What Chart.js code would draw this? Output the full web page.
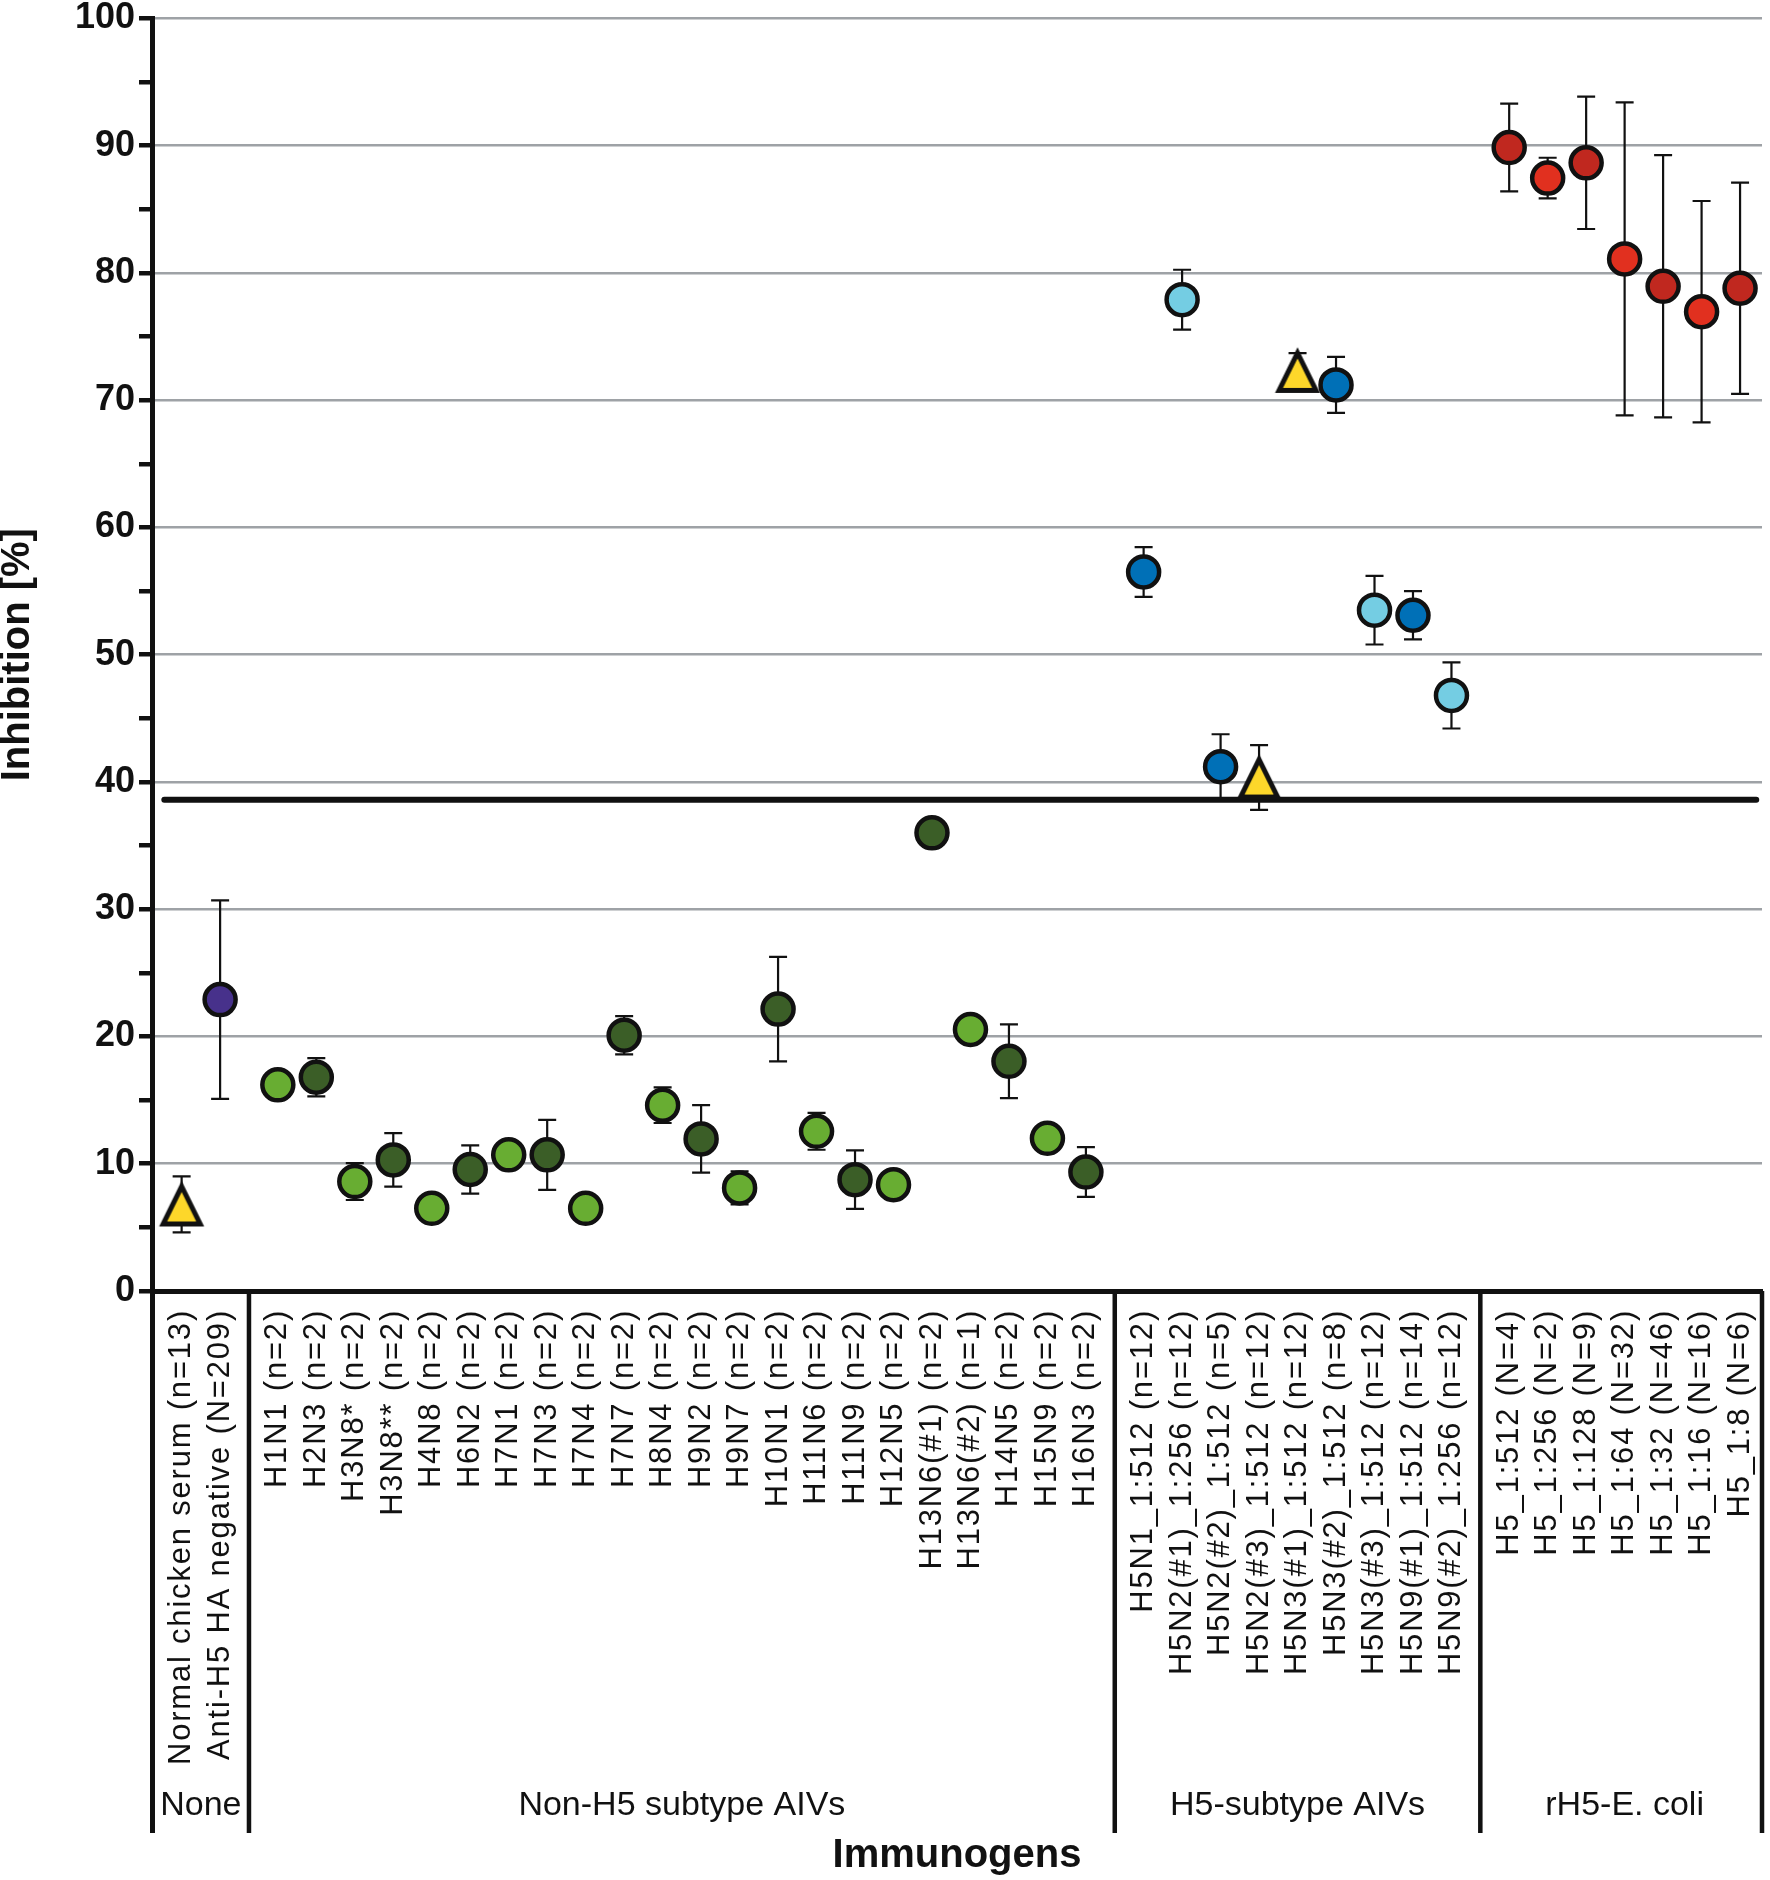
<!DOCTYPE html>
<html>
<head>
<meta charset="utf-8">
<script src="https://cdn.jsdelivr.net/npm/chart.js@4.4.1/dist/chart.umd.min.js"></script>
<style>
html,body{margin:0;padding:0;background:#ffffff;}
canvas{display:block;}
</style>
</head>
<body>
<canvas id="c" width="1770" height="1880" style="width:1770px;height:1880px"></canvas>
<script>
// ---------------- DATA ----------------
const categories = [
  'Normal chicken serum (n=13)', 'Anti-H5 HA negative (N=209)',
  'H1N1 (n=2)', 'H2N3 (n=2)', 'H3N8* (n=2)', 'H3N8** (n=2)', 'H4N8 (n=2)', 'H6N2 (n=2)',
  'H7N1 (n=2)', 'H7N3 (n=2)', 'H7N4 (n=2)', 'H7N7 (n=2)', 'H8N4 (n=2)', 'H9N2 (n=2)',
  'H9N7 (n=2)', 'H10N1 (n=2)', 'H11N6 (n=2)', 'H11N9 (n=2)', 'H12N5 (n=2)',
  'H13N6(#1) (n=2)', 'H13N6(#2) (n=1)', 'H14N5 (n=2)', 'H15N9 (n=2)', 'H16N3 (n=2)',
  'H5N1_1:512 (n=12)', 'H5N2(#1)_1:256 (n=12)', 'H5N2(#2)_1:512 (n=5)', 'H5N2(#3)_1:512 (n=12)',
  'H5N3(#1)_1:512 (n=12)', 'H5N3(#2)_1:512 (n=8)', 'H5N3(#3)_1:512 (n=12)',
  'H5N9(#1)_1:512 (n=14)', 'H5N9(#2)_1:256 (n=12)',
  'H5_1:512 (N=4)', 'H5_1:256 (N=2)', 'H5_1:128 (N=9)', 'H5_1:64 (N=32)',
  'H5_1:32 (N=46)', 'H5_1:16 (N=16)', 'H5_1:8 (N=6)'
];
const groupNames = ['None', 'Non-H5 subtype AIVs', 'H5-subtype AIVs', 'rH5-E. coli'];
const groupSizes = [2, 22, 9, 7];

// mean inhibition (%)
const values = [
  6.8, 22.9,
  16.2, 16.8, 8.6, 10.3, 6.5, 9.55, 10.7, 10.7, 6.5, 20.1, 14.6, 11.95,
  8.1, 22.15, 12.55, 8.75, 8.35, 36.0, 20.55, 18.05, 12.0, 9.35,
  56.5, 77.9, 41.2, 40.35, 72.3, 71.2, 53.5, 53.1, 46.8,
  89.85, 87.45, 88.65, 81.1, 78.95, 76.95, 78.8
];
// error (+/-)
const errors = [
  2.2, 7.8,
  0, 1.5, 1.45, 2.1, 0, 1.9, 0, 2.75, 0, 1.5, 1.4, 2.65,
  1.3, 4.1, 1.45, 2.3, 0, 0, 0, 2.9, 0, 1.95,
  1.95, 2.35, 2.55, 2.55, 1.4, 2.2, 2.7, 1.9, 2.6,
  3.45, 1.6, 5.2, 12.3, 10.3, 8.7, 8.3
];
// marker series membership (index into seriesNames)
const seriesNames = ['Triangle', 'Anti-H5 negative', 'Non-H5 A', 'Non-H5 B',
                     'H5 A', 'H5 B', 'rH5 A', 'rH5 B'];
const seriesOf = [
  0, 1,
  2, 3, 2, 3, 2, 3, 2, 3, 2, 3, 2, 3, 2, 3, 2, 3, 2, 3, 2, 3, 2, 3,
  5, 4, 5, 0, 0, 5, 4, 5, 4,
  6, 7, 6, 7, 6, 7, 6
];
const cutoff = 38.6;
const yMin = 0, yMax = 100, yMinorStep = 5, yMajorStep = 10;

// ---------------- STYLE ----------------
const FONT = '"Liberation Sans", Arial, Helvetica, sans-serif';
const INK = '#111111';
const seriesColors = ['#fdd72a', '#47318b', '#68ad32', '#3b5e27',
                      '#74cde3', '#0070b7', '#c0281f', '#e1301f'];

function makeTriangle(fill) {
  const c = document.createElement('canvas');
  c.width = 52; c.height = 52;
  const g = c.getContext('2d');
  g.beginPath();
  g.moveTo(26, 8);
  g.lineTo(44.5, 45.5);
  g.lineTo(7.5, 45.5);
  g.closePath();
  g.fillStyle = fill;
  g.fill();
  g.lineWidth = 5;
  g.lineJoin = 'miter';
  g.strokeStyle = INK;
  g.stroke();
  return c;
}

// x positions: one slot per category, 1.5 slots between groups
const positions = [];
const groupCenters = [];
const groupBounds = [];
(function () {
  let p = 0;
  groupSizes.forEach((n, gi) => {
    const first = p;
    for (let k = 0; k < n; k++) { positions.push(p); p += 1; }
    const last = p - 1;
    groupCenters.push((first + last) / 2);
    if (gi < groupSizes.length - 1) groupBounds.push(last + 0.75);
    p += 0.5;
  });
})();

const xMin = -0.77, xMax = 41.07;

const datasets = seriesNames.map((name, si) => {
  const pts = [];
  categories.forEach((c, i) => {
    if (seriesOf[i] === si) pts.push({ x: positions[i], y: values[i] });
  });
  const ds = {
    label: name,
    data: pts,
    backgroundColor: seriesColors[si],
    borderColor: INK,
    borderWidth: 4.5,
    pointRadius: 15.5,
    pointHoverRadius: 15.5,
    order: 1
  };
  if (si === 0) ds.pointStyle = makeTriangle(seriesColors[0]);
  return ds;
});
datasets.push({
  label: 'Cut-off',
  data: [{ x: xMin + 0.32, y: cutoff }, { x: xMax - 0.15, y: cutoff }],
  showLine: true,
  borderColor: INK,
  borderWidth: 6,
  borderCapStyle: 'round',
  pointRadius: 0,
  fill: false,
  order: 10
});

const errorBarPlugin = {
  id: 'errorBars',
  beforeDatasetsDraw(chart) {
    const { ctx, scales: { x, y } } = chart;
    ctx.save();
    ctx.strokeStyle = INK;
    ctx.lineWidth = 2.2;
    values.forEach((v, i) => {
      const e = errors[i];
      if (!e) return;
      const px = x.getPixelForValue(positions[i]);
      const t = y.getPixelForValue(v + e);
      const b = y.getPixelForValue(v - e);
      ctx.beginPath();
      ctx.moveTo(px, t); ctx.lineTo(px, b);
      ctx.moveTo(px - 9, t); ctx.lineTo(px + 9, t);
      ctx.moveTo(px - 9, b); ctx.lineTo(px + 9, b);
      ctx.stroke();
    });
    ctx.restore();
  }
};

const separatorPlugin = {
  id: 'separators',
  afterDraw(chart) {
    const { ctx, chartArea, scales: { x, x2 } } = chart;
    const yBottom = x2.top + 48;
    ctx.save();
    ctx.strokeStyle = INK;
    ctx.lineWidth = 5;
    ctx.beginPath();
    ctx.moveTo(chartArea.left + 0.5, chartArea.bottom);
    ctx.lineTo(chartArea.left + 0.5, yBottom);
    ctx.stroke();
    ctx.lineWidth = 4.5;
    ctx.beginPath();
    groupBounds.forEach(v => {
      const px = x.getPixelForValue(v);
      ctx.moveTo(px, chartArea.bottom);
      ctx.lineTo(px, yBottom);
    });
    ctx.moveTo(chartArea.right, chartArea.bottom);
    ctx.lineTo(chartArea.right, yBottom);
    ctx.stroke();
    ctx.restore();
  }
};

function patchLetterSpacing(scale, spacing) {
  if (scale._lsPatched) return;
  const orig = scale.drawLabels;
  scale.drawLabels = function (area) {
    const c = this.ctx;
    const prev = c.letterSpacing;
    c.letterSpacing = spacing;
    orig.call(this, area);
    c.letterSpacing = prev || '0px';
  };
  scale._lsPatched = true;
}

Chart.defaults.font.family = FONT;
Chart.defaults.color = INK;

new Chart(document.getElementById('c'), {
  type: 'scatter',
  data: { datasets },
  plugins: [errorBarPlugin, separatorPlugin],
  options: {
    responsive: false,
    animation: false,
    layout: { autoPadding: false, padding: { top: 16, right: 8, bottom: 0, left: 0 } },
    plugins: { legend: { display: false }, tooltip: { enabled: false } },
    scales: {
      y: {
        type: 'linear',
        min: yMin, max: yMax,
        afterFit(s) { s.width = 152; },
        ticks: {
          stepSize: yMinorStep,
          font: { size: 36, weight: 'bold', lineHeight: 0.8 },
          color: INK,
          padding: 4,
          callback: v => (v % yMajorStep === 0 ? String(v) : '')
        },
        grid: {
          color: c => (c.tick && c.tick.value % yMajorStep === 0 ? '#9ea2a6' : 'rgba(0,0,0,0)'),
          lineWidth: 2.5,
          drawTicks: true,
          tickLength: 13,
          tickWidth: 4.5,
          tickColor: INK
        },
        border: { display: true, color: INK, width: 5 },
        title: {
          display: true,
          text: 'Inhibition [%]',
          font: { size: 40, weight: 'bold', lineHeight: 0.9 },
          color: INK,
          padding: { top: 0, bottom: 0 }
        }
      },
      x: {
        type: 'linear',
        position: 'bottom',
        min: xMin, max: xMax,
        weight: 0,
        afterFit(s) { s.height = 494; s.paddingLeft = 0; s.paddingRight = 0; },
        afterUpdate(s) { patchLetterSpacing(s, '1.8px'); },
        afterBuildTicks(s) { s.ticks = positions.map(v => ({ value: v })); },
        ticks: {
          autoSkip: false,
          minRotation: 90,
          maxRotation: 90,
          padding: 18,
          font: { size: 31 },
          color: INK,
          callback: (v, i) => categories[i]
        },
        grid: { display: true, drawOnChartArea: false, drawTicks: false, color: 'rgba(0,0,0,0)' },
        border: { display: true, color: INK, width: 5 }
      },
      x2: {
        type: 'linear',
        position: 'bottom',
        axis: 'x',
        min: xMin, max: xMax,
        weight: 1,
        afterFit(s) { s.height = 95; s.paddingLeft = 0; s.paddingRight = 0; },
        afterBuildTicks(s) { s.ticks = groupCenters.map(v => ({ value: v })); },
        ticks: {
          autoSkip: false,
          minRotation: 0,
          maxRotation: 0,
          padding: 0,
          font: { size: 34 },
          color: INK,
          callback: (v, i) => groupNames[i]
        },
        grid: { display: false, drawTicks: false },
        border: { display: false },
        title: {
          display: true,
          text: 'Immunogens',
          font: { size: 40, weight: 'bold', lineHeight: 1 },
          color: INK,
          padding: { top: 0, bottom: 4 }
        }
      }
    }
  }
});
</script>
</body>
</html>
